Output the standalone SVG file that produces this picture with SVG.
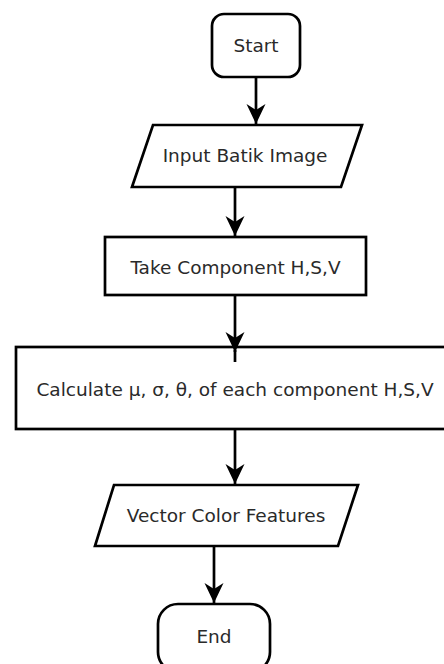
<svg xmlns="http://www.w3.org/2000/svg" width="444" height="664" viewBox="0 0 444 664">
<defs>
<style>
.shape{fill:#fff;stroke:#000;stroke-width:2.7}
.lbl{font-family:"DejaVu Sans",sans-serif;font-size:18.5px;fill:#2a2a2a;text-anchor:middle}
.conn{fill:none;stroke:#000;stroke-width:2.7}
</style>
<marker id="ah" markerUnits="userSpaceOnUse" markerWidth="24" markerHeight="24" viewBox="-22 -11 24 22" refX="0" refY="0" orient="auto">
<path d="M0,0 L-20,-9.5 L-14,0 L-20,9.5 Z" fill="#000"/>
</marker>
</defs>
<rect width="444" height="664" fill="#fff"/>
<g id="start">
<rect class="shape" x="212" y="14" width="88" height="63" rx="12" ry="12"/>
<text class="lbl" x="256" y="52">Start</text>
</g>
<g id="input">
<polygon class="shape" points="153,125 362,125 341,187 132,187"/>
<text class="lbl" x="245" y="162">Input Batik Image</text>
</g>
<g id="take">
<rect class="shape" x="105" y="237" width="261" height="58"/>
<text class="lbl" x="235.5" y="273.5">Take Component H,S,V</text>
</g>
<g id="calculate">
<rect class="shape" x="16" y="347" width="440" height="82"/>
<text class="lbl" x="235" y="396">Calculate μ, σ, θ, of each component H,S,V</text>
</g>
<g id="vector">
<polygon class="shape" points="114,485 358,485 338,546 95,546"/>
<text class="lbl" x="226" y="522">Vector Color Features</text>
</g>
<g id="end">
<rect class="shape" x="158" y="604" width="112" height="68" rx="20" ry="20"/>
<text class="lbl" x="214" y="643">End</text>
</g>
<g id="connectors">
<path class="conn" d="M256,77 V124" marker-end="url(#ah)"/>
<path class="conn" d="M235,187 V236" marker-end="url(#ah)"/>
<path class="conn" d="M235,295 V352" marker-end="url(#ah)"/>
<path class="conn" d="M235,350 V362"/>
<path class="conn" d="M235,429 V484" marker-end="url(#ah)"/>
<path class="conn" d="M214,546 V603" marker-end="url(#ah)"/>
</g>
</svg>
